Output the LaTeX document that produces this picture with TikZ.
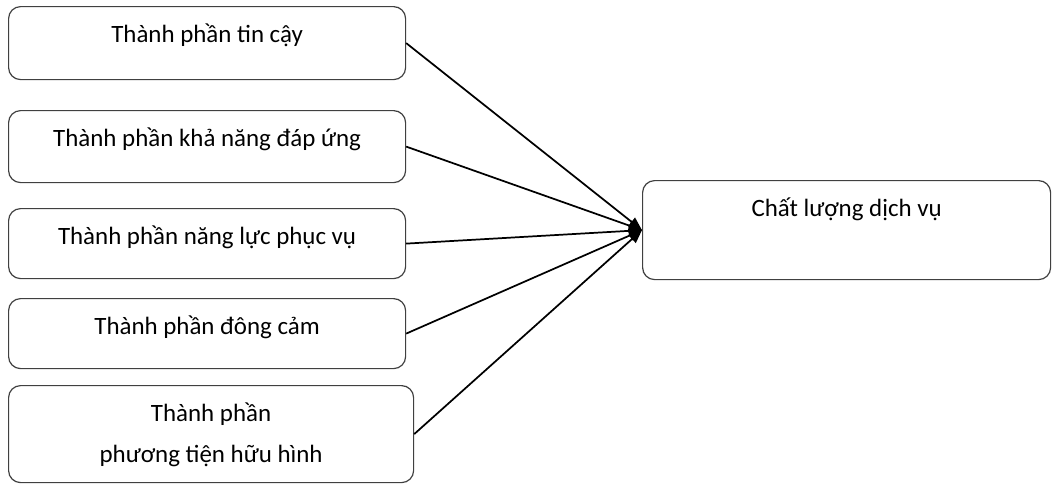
\documentclass[tikz,border=0pt]{standalone}
\usepackage{fontspec}
\setmainfont{Carlito}
\usetikzlibrary{arrows.meta}
\newcommand{\boxFont}{\fontsize{18.7}{30.75}\selectfont}

\begin{document}
\begin{tikzpicture}[x=0.75pt, y=-0.75pt,
    factorbox/.style={draw=black!75, line width=0.9pt, rounded corners=9pt,
       anchor=north west, inner sep=0pt, minimum width=297.75pt},
    boxlabel/.style={anchor=base, font=\boxFont, align=center},
    boxtext/.style={label={[boxlabel, yshift=-27pt]north:#1}},
    link/.style={line width=1.3pt, -{Triangle[length=10pt, width=8pt]}}]
         \useasboundingbox (0,0) rectangle (1052,487);

         \node (tinCay) [factorbox, minimum height=54.75pt, boxtext={Thành phần tin cậy}] at (8,6) {};
         \node (dapUng) [factorbox, minimum height=54pt, boxtext={Thành phần khả năng đáp ứng}] at (8,110) {};
         \node (phucVu) [factorbox, minimum height=52.5pt, boxtext={Thành phần năng lực phục vụ}] at (8,208) {};
         \node (dongCam) [factorbox, minimum height=52.5pt, boxtext={Thành phần đông cảm}] at (8,298) {};
         % two lines: base sits on the last one
         \node (huuHinh) [factorbox, minimum width=303.75pt, minimum height=72.75pt,
            label={[boxlabel, yshift=-57.75pt]north:Thành phần\\phương tiện hữu hình}] at (8,385) {};

         \node (chatLuong) [factorbox, minimum width=306pt, minimum height=74.25pt,
            boxtext={Chất lượng dịch vụ}] at (642,180) {};

         \draw[link] (tinCay.east) -- (chatLuong.west);
         \draw[link] (dapUng.east) -- (chatLuong.west);
         \draw[link] (phucVu.east) -- (chatLuong.west);
         \draw[link] (dongCam.east) -- (chatLuong.west);
         \draw[link] (huuHinh.east) -- (chatLuong.west);
      \end{tikzpicture}
\end{document}
